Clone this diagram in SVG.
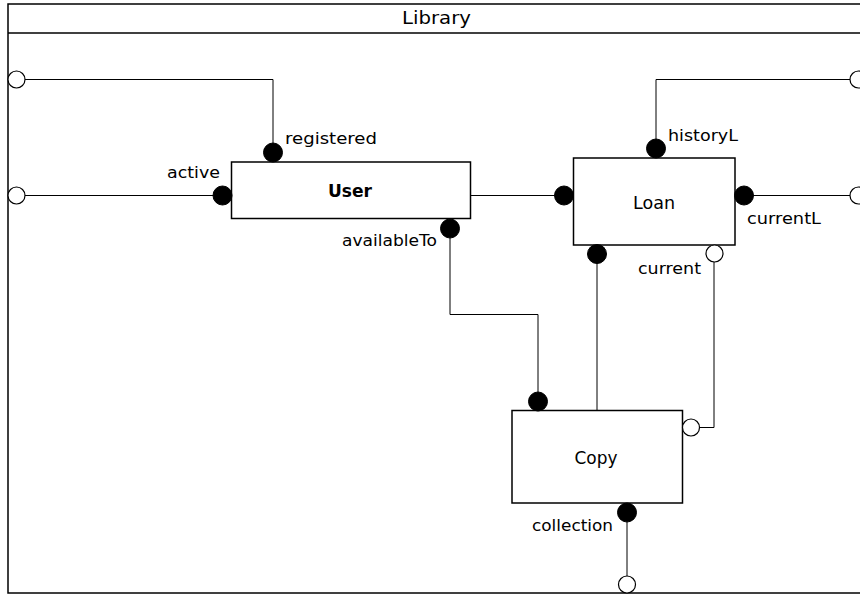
<svg xmlns="http://www.w3.org/2000/svg" width="860" height="594" viewBox="0 0 860 594">
<style>
.frame{fill:#fff;stroke:#000;stroke-width:1.5}
.box{fill:#fff;stroke:#000;stroke-width:1.5}
.conn{fill:none;stroke:#000;stroke-width:1}
.dot{fill:#000;stroke:#000;stroke-width:1}
.port{fill:#fff;stroke:#000;stroke-width:1.2}
text{font-family:"DejaVu Sans","Liberation Sans",sans-serif;fill:#000}
.lbl{font-size:15px}
.name{font-size:18px}
.title{font-size:18px}
</style>
<rect width="860" height="594" fill="#fff"/>
<g id="library">
<rect class="frame" x="8" y="4" width="860" height="589"/>
<line class="frame" x1="8" y1="33" x2="868" y2="33"/>
<text class="title" x="402" y="24" textLength="69" lengthAdjust="spacingAndGlyphs">Library</text>
</g>
<g id="connectors">
<polyline class="conn" points="25,79.5 273,79.5 273,144"/>
<line class="conn" x1="25" y1="195.5" x2="214" y2="195.5"/>
<line class="conn" x1="470" y1="195.5" x2="555" y2="195.5"/>
<polyline class="conn" points="656,140 656,79.5 850,79.5"/>
<line class="conn" x1="753" y1="195.5" x2="850" y2="195.5"/>
<polyline class="conn" points="450,238 450,314.5 538,314.5 538,393"/>
<line class="conn" x1="597" y1="263" x2="597" y2="410"/>
<polyline class="conn" points="714,262 714,427.5 699,427.5"/>
<line class="conn" x1="627" y1="522" x2="627" y2="576"/>
</g>
<g id="ports">
<circle class="port" cx="16.5" cy="79.5" r="8.5"/>
<circle class="port" cx="16.5" cy="195.5" r="8.5"/>
<circle class="port" cx="858.5" cy="79.5" r="8.5"/>
<circle class="port" cx="858.5" cy="195.5" r="8.5"/>
<circle class="port" cx="627" cy="584.5" r="8.5"/>
</g>
<g id="User">
<rect class="box" x="231.5" y="162" width="239" height="56.5"/>
<text class="name" x="328" y="197" font-weight="bold" textLength="44" lengthAdjust="spacingAndGlyphs">User</text>
<circle class="dot" cx="273" cy="152.5" r="9.5"/>
<circle class="dot" cx="222.5" cy="195.5" r="9.5"/>
<circle class="dot" cx="450" cy="228.5" r="9.5"/>
<text class="lbl" x="285" y="144" textLength="92" lengthAdjust="spacingAndGlyphs">registered</text>
<text class="lbl" x="167" y="178" textLength="53" lengthAdjust="spacingAndGlyphs">active</text>
<text class="lbl" x="342" y="246" textLength="95" lengthAdjust="spacingAndGlyphs">availableTo</text>
</g>
<g id="Loan">
<rect class="box" x="573.5" y="158" width="161.5" height="87"/>
<text class="name" x="633" y="208.5" textLength="42" lengthAdjust="spacingAndGlyphs">Loan</text>
<circle class="dot" cx="656" cy="148.5" r="9.5"/>
<circle class="dot" cx="564" cy="195.5" r="9.5"/>
<circle class="dot" cx="744" cy="195.5" r="9.5"/>
<circle class="dot" cx="597" cy="254" r="9.5"/>
<circle class="port" cx="714.5" cy="253.5" r="8.5"/>
<text class="lbl" x="668" y="141" textLength="70" lengthAdjust="spacingAndGlyphs">historyL</text>
<text class="lbl" x="747" y="223.5" textLength="74" lengthAdjust="spacingAndGlyphs">currentL</text>
<text class="lbl" x="638" y="273.5" textLength="63" lengthAdjust="spacingAndGlyphs">current</text>
</g>
<g id="Copy">
<rect class="box" x="512" y="410.5" width="170.5" height="92.5"/>
<text class="name" x="574.5" y="463.5" textLength="43" lengthAdjust="spacingAndGlyphs">Copy</text>
<circle class="dot" cx="538" cy="401.5" r="9.5"/>
<circle class="port" cx="691" cy="427.5" r="8.5"/>
<circle class="dot" cx="627" cy="512.5" r="9.5"/>
<text class="lbl" x="532" y="531" textLength="81" lengthAdjust="spacingAndGlyphs">collection</text>
</g>
</svg>
